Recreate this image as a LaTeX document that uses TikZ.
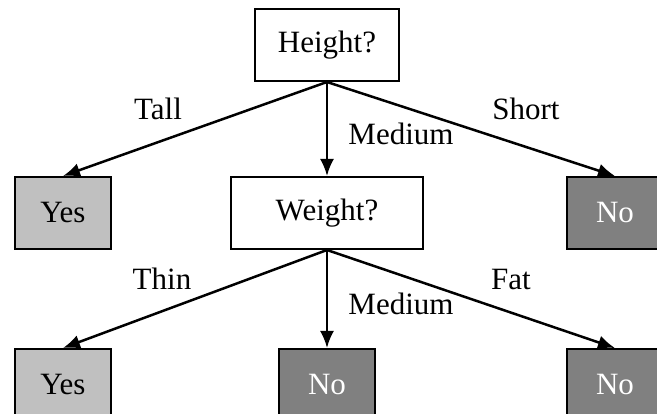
\documentclass[tikz,border=0pt]{standalone}
\usepackage{fontspec}
\setmainfont{Liberation Serif}
\usetikzlibrary{arrows.meta}
\begin{document}
\begin{tikzpicture}[x=1pt,y=-1pt,
  box/.style={draw=black,line width=2pt,inner sep=0pt,minimum height=72pt,
    font=\fontsize{31}{31}\selectfont},
  question/.style={box,fill=white},
  yesbox/.style={box,fill=yes,minimum width=96pt},
  nobox/.style={box,fill=no,text=white,minimum width=96pt},
  edge/.style={line width=2.5pt,-{Latex[length=17pt,width=14pt]}},
  lbl/.style={anchor=base,inner sep=0pt,font=\fontsize{31}{31}\selectfont}]
\definecolor{yes}{RGB}{192,192,192}
\definecolor{no}{RGB}{128,128,128}
\useasboundingbox[clip] (0,0) rectangle (657,414);
% decision nodes
\node[question,minimum width=144pt] (height) at (327,45) {Height?};
\node[question,minimum width=192pt] (weight) at (327,213) {Weight?};
% leaves
\node[yesbox] (yes1) at (63,213) {Yes};
\node[nobox] (no1) at (615,213) {No};
\node[yesbox] (yes2) at (63,385) {Yes};
\node[nobox] (no2) at (327,385) {No};
\node[nobox] (no3) at (615,385) {No};
% branches
\draw[edge] (height.south) -- (yes1.north);
\draw[edge] (height.south) -- (weight.north);
\draw[edge] (height.south) -- (no1.north);
\draw[edge] (weight.south) -- (yes2.north);
\draw[edge] (weight.south) -- (no2.north);
\draw[edge] (weight.south) -- (no3.north);
% branch labels
\node[lbl] (tall) at (158,120) {Tall};
\node[lbl] (med1) at (401,145) {Medium};
\node[lbl] (short) at (526,120) {Short};
\node[lbl] (thin) at (162,290) {Thin};
\node[lbl] (med2) at (401,315) {Medium};
\node[lbl] (fat) at (511,290) {Fat};
\end{tikzpicture}
\end{document}
